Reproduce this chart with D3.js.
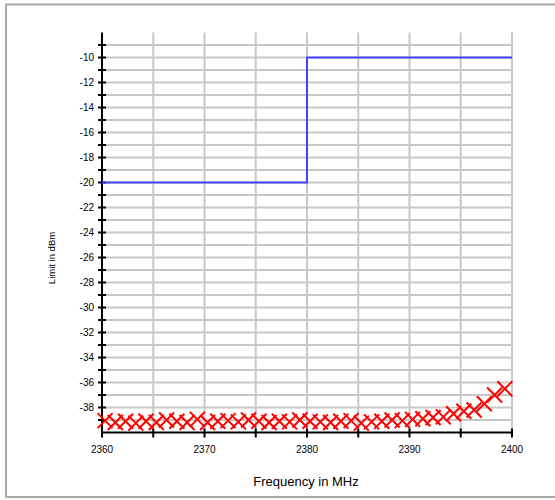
<!DOCTYPE html>
<html><head><meta charset="utf-8">
<script src="https://cdn.jsdelivr.net/npm/d3@7"></script>
<style>body{margin:0;background:#fff}svg{display:block;font-family:"Liberation Sans",Arial,sans-serif}</style>
</head><body><div id="chart"></div>
<script>
// Limit line (step)
const limitFreq = [2360, 2380, 2380, 2400];
const limitVal  = [-20, -20, -10, -10];
// Measured points (red crosses)
const measFreq = [2360.3,2361.3,2362.3,2363.3,2364.3,2365.3,2366.3,2367.3,2368.3,2369.3,
                  2370.3,2371.3,2372.3,2373.3,2374.3,2375.3,2376.3,2377.3,2378.3,2379.3,
                  2380.3,2381.3,2382.3,2383.3,2384.3,2385.3,2386.3,2387.3,2388.3,2389.3,
                  2390.3,2391.3,2392.3,2393.3,2394.3,2395.3,2396.3,2397.3,2398.3,2399.3];
const measVal  = [-39.05,-39.2,-39.1,-39.25,-39.1,-39.2,-39.0,-39.1,-39.2,-38.95,
                  -39.2,-39.1,-39.05,-39.15,-39.0,-39.1,-39.2,-39.1,-39.15,-39.0,
                  -39.1,-39.15,-39.2,-39.1,-39.05,-39.25,-39.15,-39.1,-39.0,-39.05,
                  -38.95,-38.9,-38.8,-38.75,-38.5,-38.3,-38.2,-37.7,-37.0,-36.5];
const xTickLabels = [2360, 2370, 2380, 2390, 2400];
const xMinorTicks = [2360, 2365, 2370, 2375, 2380, 2385, 2390, 2395, 2400];
const yTickLabels = [-10,-12,-14,-16,-18,-20,-22,-24,-26,-28,-30,-32,-34,-36,-38];
const yGridVals = d3.range(-39, -8, 1);

const W = 555, H = 500;
const svg = d3.select("#chart").append("svg").attr("width", W).attr("height", H);

svg.append("rect").attr("x", 6).attr("y", 4.5).attr("width", 560).attr("height", 492.5)
  .attr("fill", "#fff").attr("stroke", "#aaaaaa").attr("stroke-width", 2);

const x = d3.scaleLinear().domain([2360, 2400]).range([102, 512]);
const y = d3.scaleLinear().domain([-40, -8]).range([432.5, 32.5]);

const grid = svg.append("g").attr("stroke", "#c8c8c8").attr("stroke-width", 2);
grid.selectAll("line.h").data(yGridVals).join("line")
  .attr("x1", x(2360)).attr("x2", x(2400)).attr("y1", d => y(d)).attr("y2", d => y(d));
grid.selectAll("line.v").data(xMinorTicks.filter(d => d > 2360)).join("line")
  .attr("x1", d => x(d)).attr("x2", d => x(d)).attr("y1", y(-8)).attr("y2", y(-40));

// Y axis
const yAxis = svg.append("g");
yAxis.append("line").attr("x1", x(2360)).attr("x2", x(2360)).attr("y1", y(-8)).attr("y2", y(-40))
  .attr("stroke", "#000").attr("stroke-width", 2);
yAxis.selectAll("line.t").data(yGridVals).join("line")
  .attr("x1", x(2360) - 4).attr("x2", x(2360) + 4).attr("y1", d => y(d)).attr("y2", d => y(d))
  .attr("stroke", "#000").attr("stroke-width", 2);
yAxis.selectAll("text").data(yTickLabels).join("text")
  .attr("x", x(2360) - 8).attr("y", d => y(d)).attr("dy", "0.35em")
  .attr("text-anchor", "end").attr("font-size", 10).attr("fill", "#000").text(d => d);

// X axis
const xAxis = svg.append("g");
xAxis.append("line").attr("x1", x(2360)).attr("x2", x(2400)).attr("y1", y(-40)).attr("y2", y(-40))
  .attr("stroke", "#000").attr("stroke-width", 2);
xAxis.selectAll("line.t").data(xMinorTicks).join("line")
  .attr("x1", d => x(d)).attr("x2", d => x(d)).attr("y1", y(-40) - 4).attr("y2", y(-40) + 5)
  .attr("stroke", "#000").attr("stroke-width", 2);
xAxis.selectAll("text").data(xTickLabels).join("text")
  .attr("x", d => x(d)).attr("y", 453).attr("text-anchor", "middle")
  .attr("font-size", 10).attr("fill", "#000").text(d => d);

// Limit line
const line = d3.line().x(d => x(d[0])).y(d => y(d[1]));
svg.append("path").datum(limitFreq.map((f, i) => [f, limitVal[i]]))
  .attr("d", line).attr("fill", "none").attr("stroke", "#4444ff").attr("stroke-width", 2);

// Crosses
const s = 7.5;
const cross = svg.append("g").attr("stroke", "#ff0000").attr("stroke-width", 2);
measFreq.forEach((f, i) => {
  const cx = x(f), cy = y(measVal[i]);
  cross.append("path").attr("d", `M${cx - s},${cy - s}L${cx + s},${cy + s}M${cx - s},${cy + s}L${cx + s},${cy - s}`);
});

// Titles
svg.append("text").attr("x", 306).attr("y", 486).attr("text-anchor", "middle")
  .attr("font-size", 13).attr("fill", "#000").text("Frequency in MHz");
svg.append("text").attr("transform", "translate(55,258) rotate(-90)").attr("text-anchor", "middle")
  .attr("font-size", 9.5).attr("fill", "#000").text("Limit in dBm");
</script></body></html>
